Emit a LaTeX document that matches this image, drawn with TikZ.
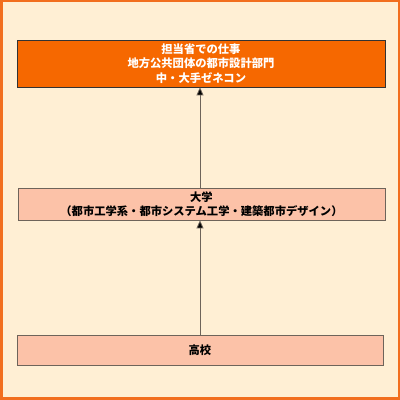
\documentclass[tikz,border=0pt]{standalone}
\usepackage{fontspec}
\newfontfamily\cjk{Noto Sans CJK JP}
\usetikzlibrary{arrows.meta}
\definecolor{bgc}{RGB}{255,239,212}
\definecolor{framec}{RGB}{242,110,30}
\definecolor{topc}{RGB}{246,104,0}
\definecolor{lightc}{RGB}{252,194,168}
\definecolor{linec}{RGB}{110,100,90}
\tikzset{
  box/.style={draw=linec, line width=0.8pt, inner sep=0pt, align=center,
    font=\cjk\bfseries\fontsize{11.3}{14.3}\selectfont},
  conn/.style={draw=linec, line width=0.8pt, -{Triangle[length=8pt,width=7pt,fill=black]}}
}
\begin{document}
\begin{tikzpicture}[x=1pt,y=1pt]
\fill[bgc] (0,0) rectangle (400,400);
\draw[framec, line width=2.5pt] (1.25,1.25) rectangle (398.75,398.75);
\useasboundingbox (0,0) rectangle (400,400);
\node[box, fill=topc, draw=black!80, text=white, minimum width=368pt, minimum height=47pt] (job) at (201,336.5)
  {担当省での仕事\\地方公共団体の都市設計部門\\中・大手ゼネコン};
\node[box, fill=lightc, minimum width=367pt, minimum height=32pt] (univ) at (201.5,196)
  {大学\\（都市工学系・都市システム工学・建築都市デザイン）};
\node[box, fill=lightc, minimum width=366pt, minimum height=30pt] (hs) at (200,50)
  {高校};
\draw[conn] (hs.north -| 200,0) -- (univ.south -| 200,0);
\draw[conn] (univ.north -| 200,0) -- (job.south -| 200,0);
\end{tikzpicture}
\end{document}
